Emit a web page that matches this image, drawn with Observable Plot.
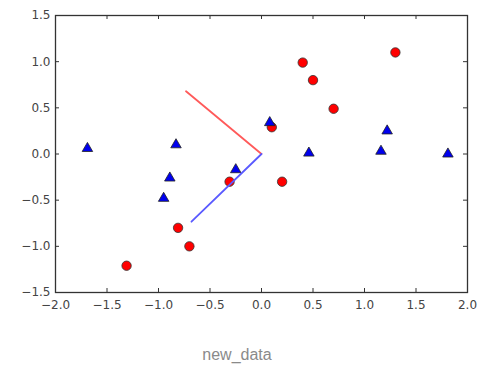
<!DOCTYPE html>
<html>
<head>
<meta charset="utf-8">
<script src="https://cdn.jsdelivr.net/npm/d3@7"></script>
<script src="https://cdn.jsdelivr.net/npm/@observablehq/plot@0.6"></script>
<style>
  body { margin: 0; background: #fff; }
  #caption { width: 474px; text-align: center; padding-top: 25px; font-family: "Liberation Sans", Arial, sans-serif; font-size: 16px; line-height: 20px; color: #8a8a8a; }
</style>
</head>
<body>
<div id="chart"></div>
<div id="caption">new_data</div>
<script>
const redX = [-1.31, -0.81, -0.70, -0.31, 0.10, 0.20, 0.40, 0.50, 0.70, 1.30];
const redY = [-1.21, -0.80, -1.00, -0.30, 0.29, -0.30, 0.99, 0.80, 0.49, 1.10];
const blueX = [-1.69, -0.83, -0.89, -0.95, -0.25, 0.08, 0.46, 1.16, 1.22, 1.81];
const blueY = [0.06, 0.10, -0.26, -0.48, -0.17, 0.34, 0.01, 0.03, 0.25, 0.00];
const vecRed = [[0, 0], [-0.733, 0.68]];
const vecBlue = [[0, 0], [-0.68, -0.733]];
const xTicks = [-2.0, -1.5, -1.0, -0.5, 0.0, 0.5, 1.0, 1.5, 2.0];
const yTicks = [-1.5, -1.0, -0.5, 0.0, 0.5, 1.0, 1.5];

const reds = redX.map((x, i) => ({x, y: redY[i]}));
const blues = blueX.map((x, i) => ({x, y: blueY[i]}));
const fmt = d3.format(".1f");

const W = 500, H = 320, mt = 15, mb = 28, ml = 55, mr = 33;
const fh = H - mt - mb, fw = W - ml - mr, tl = 4;

const chart = Plot.plot({
  width: W, height: H,
  marginTop: mt, marginBottom: mb, marginLeft: ml, marginRight: mr,
  style: {fontFamily: "'DejaVu Sans', sans-serif", fontSize: "12px", color: "#444", background: "#fff"},
  x: {domain: [-2, 2]},
  y: {domain: [-1.5, 1.5]},
  marks: [
    Plot.dot(reds, {x: "x", y: "y", r: 4.7, fill: "#ff0000", stroke: "#333", strokeWidth: 0.8}),
    Plot.dot(blues, {x: "x", y: "y", r: 3.9, symbol: "triangle", fill: "#0000ee", stroke: "#222", strokeWidth: 0.8}),
    Plot.line(vecRed, {x: d => d[0], y: d => d[1], stroke: "#ff5a5a", strokeWidth: 1.8}),
    Plot.line(vecBlue, {x: d => d[0], y: d => d[1], stroke: "#5a5aff", strokeWidth: 1.8}),
    Plot.tickX(xTicks, {x: d => d, insetTop: fh - tl, stroke: "#333"}),
    Plot.tickX(xTicks, {x: d => d, insetBottom: fh - tl, stroke: "#333"}),
    Plot.tickY(yTicks, {y: d => d, insetRight: fw - tl, stroke: "#333"}),
    Plot.tickY(yTicks, {y: d => d, insetLeft: fw - tl, stroke: "#333"}),
    Plot.frame({stroke: "#333", strokeWidth: 1.3}),
    Plot.axisX(xTicks, {tickSize: 0, tickPadding: 8, tickFormat: fmt, label: null, fill: "#444"}),
    Plot.axisY(yTicks, {tickSize: 0, tickPadding: 5, tickFormat: fmt, label: null, fill: "#444"})
  ]
});
document.getElementById("chart").appendChild(chart);
</script>
</body>
</html>
